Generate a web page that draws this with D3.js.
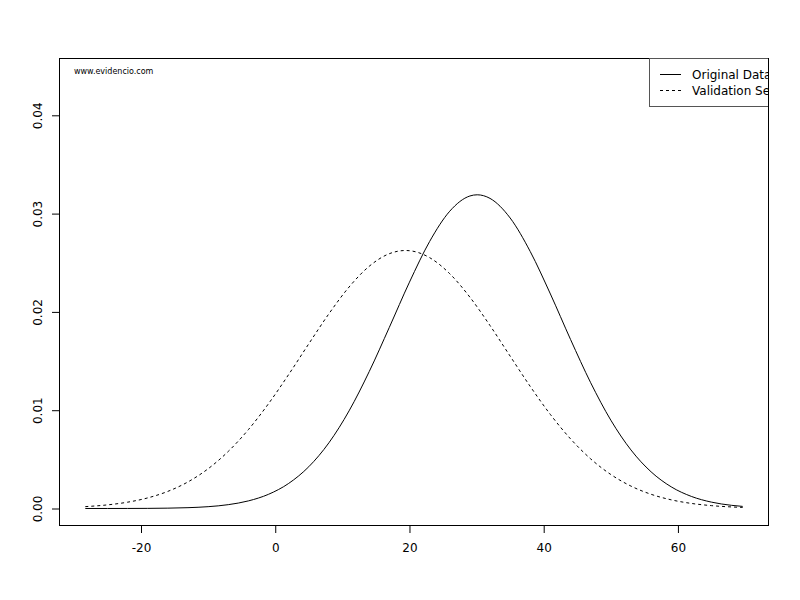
<!DOCTYPE html>
<html><head><meta charset="utf-8">
<script src="https://cdn.jsdelivr.net/npm/d3@7"></script>
<style>body{margin:0;background:#fff;} svg{display:block;}</style>
</head><body>
<svg id="c" width="800" height="600"></svg>
<script>
const seriesNames = ["Original Data", "Validation Set"];
const xOriginal = [-28.3,-25,-22,-19,-16,-13,-10,-7,-4,-1,2,5,8,11,14,17,20,23,26,29,30.1,32,35,38,41,44,47,50,53,56,59,62,65,68,69.65];
const yOriginal = [0.0000006,0.0000019,0.0000054,0.0000142,0.0000355,0.0000837,0.000186,0.00039,0.000773,0.001445,0.002551,0.004252,0.006687,0.009932,0.013925,0.018428,0.023027,0.02716,0.030243,0.031792,0.031915,0.031548,0.029555,0.026137,0.021822,0.017198,0.012796,0.008988,0.00596,0.00373,0.002204,0.00123,0.000648,0.000322,0.000214];
const xValidation = [-28.3,-25,-22,-19,-16,-13,-10,-7,-4,-1,2,5,8,11,14,17,19.4,20,23,26,29,32,35,38,41,44,47,50,53,56,59,62,65,68,69.65];
const yValidation = [0.000191,0.000368,0.000643,0.001079,0.001743,0.002707,0.004043,0.005808,0.008025,0.010665,0.013631,0.016757,0.019813,0.02253,0.024642,0.025922,0.026247,0.026227,0.025521,0.023886,0.021501,0.018615,0.015501,0.012414,0.009562,0.007084,0.005048,0.00346,0.002281,0.001446,0.000882,0.000517,0.000292,0.000158,0.000111];
const xTicks = [-20, 0, 20, 40, 60];
const yTicks = [0.00, 0.01, 0.02, 0.03, 0.04];
const watermark = "www.evidencio.com";

const svg = d3.select("#c");
const L = 59, R = 769, T = 58, B = 526;
const x = d3.scaleLinear().domain([-32.22, 73.57]).range([L, R]);
const y = d3.scaleLinear().domain([-0.00178, 0.04583]).range([B, T]);
const font = "'DejaVu Sans', sans-serif";

svg.append("defs").append("clipPath").attr("id","plotclip")
  .append("rect").attr("x",L).attr("y",T).attr("width",R-L).attr("height",B-T);

const g = svg.append("g").attr("clip-path","url(#plotclip)");
const line = d3.line().x(d => x(d[0])).y(d => y(d[1])).curve(d3.curveMonotoneX);
g.append("path").datum(xOriginal.map((v,i)=>[v,yOriginal[i]]))
  .attr("d", line).attr("fill","none").attr("stroke","#000").attr("stroke-width",1);
g.append("path").datum(xValidation.map((v,i)=>[v,yValidation[i]]))
  .attr("d", line).attr("fill","none").attr("stroke","#000").attr("stroke-width",1)
  .attr("stroke-dasharray","3,3");

// axes
const xAxis = svg.append("g").attr("transform",`translate(0,${B})`)
  .call(d3.axisBottom(x).tickValues(xTicks).tickSize(7).tickPadding(10).tickFormat(d => String(d)));
const yAxis = svg.append("g").attr("transform",`translate(${L},0)`)
  .call(d3.axisLeft(y).tickValues(yTicks).tickSize(7).tickFormat(d => d.toFixed(2)));
[xAxis, yAxis].forEach(a => {
  a.select(".domain").remove();
  a.selectAll("line").attr("stroke","#000");
  a.selectAll("text").attr("font-family",font).attr("font-size",12).attr("fill","#000");
});
yAxis.selectAll(".tick text")
  .attr("text-anchor","middle").attr("x",null).attr("dy",null)
  .attr("transform","translate(-21,0) rotate(-90)").attr("dominant-baseline","middle");

// box
svg.append("rect").attr("x",L+0.5).attr("y",T+0.5).attr("width",R-L-1).attr("height",B-T-1)
  .attr("fill","none").attr("stroke","#000").attr("stroke-width",1);

// watermark
svg.append("text").attr("x",74).attr("y",74).text(watermark)
  .attr("font-family",font).attr("font-size",8).attr("fill","#000");

// legend (clipped at plot edge)
const lg = svg.append("g").attr("clip-path","url(#plotclip)");
lg.append("rect").attr("x",649.5).attr("y",T+0.5).attr("width",140).attr("height",48)
  .attr("fill","#fff").attr("stroke","#555").attr("stroke-width",1);
const dashes = [null, "3,3"];
seriesNames.forEach((n,i) => {
  const yy = 74.5 + i*16;
  lg.append("line").attr("x1",660).attr("x2",681).attr("y1",yy).attr("y2",yy)
    .attr("stroke","#000").attr("stroke-width",1).attr("stroke-dasharray",dashes[i]);
  lg.append("text").attr("x",692).attr("y",yy+1).attr("dominant-baseline","middle")
    .text(n).attr("font-family",font).attr("font-size",12).attr("fill","#000");
});
svg.append("line").attr("x1",R-0.5).attr("x2",R-0.5).attr("y1",T).attr("y2",B).attr("stroke","#000");
</script>
</body></html>
